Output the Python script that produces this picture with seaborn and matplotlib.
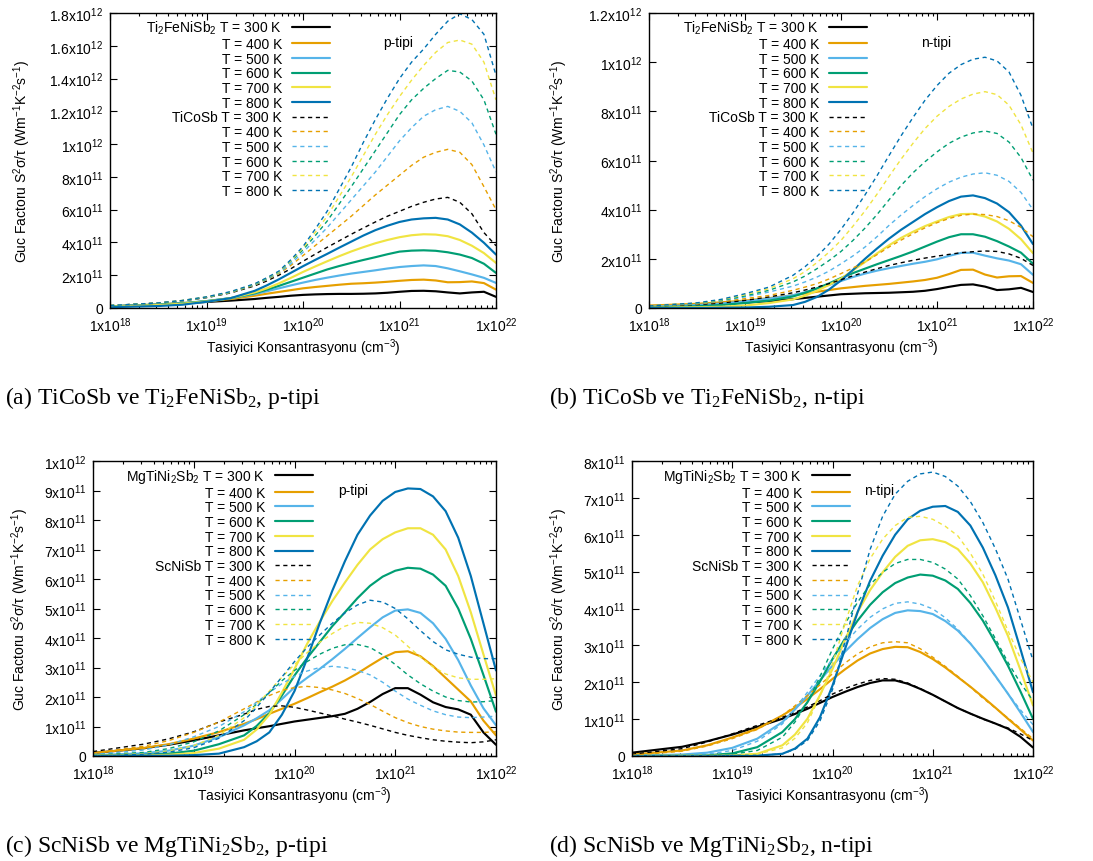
import numpy as np
import pandas as pd
import matplotlib
matplotlib.use("Agg")
import matplotlib.pyplot as plt
import seaborn as sns
from matplotlib.ticker import FixedLocator, LogLocator, NullFormatter, FixedFormatter

# ---------------- data ----------------
# exponent of carrier concentration (cm^-3), read-off positions
EXP = [18.0, 18.5, 18.75, 19.0, 19.25, 19.5, 19.625, 19.75, 19.875, 20.0,
       20.125, 20.25, 20.375, 20.5, 20.625, 20.75, 20.875, 21.0, 21.125,
       21.25, 21.375, 21.5, 21.625, 21.75, 21.875, 22.0]
TEMPS = [300, 400, 500, 600, 700, 800]
COLORS = ["#000000", "#E69F00", "#56B4E9", "#009E73", "#F0E442", "#0072B2"]

# power factor in units of 1e11 W m^-1 K^-2 s^-1
# (a) p-type: Ti2FeNiSb2 (solid) and TiCoSb (dashed)
A_S300 = [.10, .20, .28, .37, .45, .55, .62, .68, .75, .80, .83, .85, .86, .86, .87, .89, .93, .99, 1.04, 1.05, 1.02, .95, .89, .95, .99, .68]
A_S400 = [.10, .22, .30, .40, .55, .75, .87, .98, 1.09, 1.20, 1.28, 1.35, 1.42, 1.48, 1.51, 1.55, 1.60, 1.66, 1.71, 1.73, 1.68, 1.57, 1.58, 1.62, 1.52, 1.12]
A_S500 = [.10, .22, .30, .42, .60, .85, 1.02, 1.20, 1.38, 1.55, 1.71, 1.85, 1.98, 2.10, 2.20, 2.30, 2.41, 2.50, 2.56, 2.60, 2.56, 2.42, 2.24, 2.05, 1.84, 1.53]
A_S600 = [.10, .20, .28, .42, .60, .90, 1.12, 1.35, 1.60, 1.85, 2.10, 2.35, 2.56, 2.75, 2.93, 3.10, 3.28, 3.44, 3.50, 3.52, 3.49, 3.40, 3.26, 3.05, 2.70, 2.14]
A_S700 = [.08, .18, .26, .40, .60, .95, 1.20, 1.50, 1.84, 2.20, 2.53, 2.85, 3.16, 3.45, 3.71, 3.95, 4.15, 4.32, 4.44, 4.50, 4.48, 4.38, 4.15, 3.80, 3.35, 2.75]
A_S800 = [.05, .12, .20, .38, .60, 1.05, 1.38, 1.75, 2.15, 2.55, 2.93, 3.30, 3.68, 4.05, 4.42, 4.75, 5.02, 5.25, 5.40, 5.47, 5.50, 5.40, 5.10, 4.60, 3.98, 3.26]
A_D300 = [.15, .30, .44, .63, .92, 1.35, 1.65, 2.00, 2.40, 2.85, 3.28, 3.70, 4.10, 4.50, 4.88, 5.25, 5.60, 5.90, 6.20, 6.45, 6.65, 6.75, 6.45, 5.75, 4.60, 3.80]
A_D400 = [.15, .30, .45, .65, .95, 1.40, 1.73, 2.10, 2.60, 3.20, 3.80, 4.40, 5.00, 5.60, 6.25, 6.90, 7.50, 8.10, 8.70, 9.20, 9.50, 9.68, 9.50, 8.75, 7.40, 6.00]
A_D500 = [.15, .30, .45, .65, .96, 1.42, 1.75, 2.15, 2.70, 3.40, 4.15, 4.90, 5.75, 6.60, 7.45, 8.30, 9.25, 10.2, 11.0, 11.7, 12.1, 12.3, 12.0, 11.3, 9.95, 8.30]
A_D600 = [.15, .30, .45, .66, .97, 1.44, 1.80, 2.20, 2.85, 3.55, 4.40, 5.30, 6.35, 7.40, 8.50, 9.60, 10.7, 11.8, 12.7, 13.4, 14.0, 14.5, 14.4, 13.85, 12.7, 10.6]
A_D700 = [.15, .30, .46, .67, .98, 1.46, 1.83, 2.20, 2.90, 3.65, 4.60, 5.60, 6.80, 8.00, 9.30, 10.6, 11.8, 12.9, 13.9, 14.8, 15.6, 16.2, 16.35, 16.1, 15.0, 12.7]
A_D800 = [.15, .31, .46, .68, 1.00, 1.48, 1.85, 2.25, 2.95, 3.75, 4.80, 5.90, 7.25, 8.60, 10.1, 11.5, 12.8, 14.0, 15.0, 15.8, 16.7, 17.5, 17.95, 17.6, 16.7, 14.2]

# (b) n-type: Ti2FeNiSb2 (solid) and TiCoSb (dashed)
B_S300 = [.08, .12, .17, .22, .28, .36, .41, .46, .51, .56, .58, .60, .61, .62, .64, .66, .70, .77, .86, .94, .96, .87, .73, .76, .82, .65]
B_S400 = [.10, .17, .23, .30, .40, .52, .59, .66, .73, .80, .85, .90, .94, .98, 1.03, 1.08, 1.14, 1.23, 1.38, 1.55, 1.56, 1.36, 1.24, 1.29, 1.30, 1.02]
B_S500 = [.05, .12, .18, .27, .38, .52, .64, .78, .94, 1.10, 1.26, 1.40, 1.52, 1.62, 1.71, 1.80, 1.88, 1.98, 2.12, 2.24, 2.25, 2.13, 2.02, 1.93, 1.78, 1.35]
B_S600 = [.02, .07, .12, .20, .30, .47, .62, .80, 1.00, 1.22, 1.42, 1.60, 1.78, 1.95, 2.12, 2.30, 2.50, 2.70, 2.88, 3.00, 3.00, 2.90, 2.72, 2.50, 2.25, 1.80]
B_S700 = [.01, .03, .05, .10, .20, .35, .50, .70, .94, 1.20, 1.53, 1.87, 2.22, 2.55, 2.85, 3.10, 3.33, 3.52, 3.70, 3.82, 3.83, 3.72, 3.52, 3.22, 2.80, 2.23]
B_S800 = [.00, .00, .01, .02, .05, .12, .25, .45, .75, 1.12, 1.55, 2.00, 2.42, 2.82, 3.18, 3.50, 3.82, 4.10, 4.35, 4.53, 4.58, 4.47, 4.25, 3.90, 3.35, 2.60]
B_D300 = [.08, .14, .20, .31, .45, .62, .73, .85, .99, 1.15, 1.31, 1.46, 1.60, 1.73, 1.84, 1.94, 2.03, 2.11, 2.18, 2.25, 2.29, 2.32, 2.30, 2.20, 2.02, 1.73]
B_D400 = [.08, .16, .25, .38, .51, .72, .85, .99, 1.18, 1.40, 1.63, 1.87, 2.17, 2.48, 2.76, 3.02, 3.26, 3.47, 3.64, 3.77, 3.82, 3.80, 3.72, 3.55, 3.28, 2.90]
B_D500 = [.08, .18, .29, .45, .65, .89, 1.06, 1.26, 1.50, 1.80, 2.12, 2.48, 2.90, 3.36, 3.78, 4.17, 4.53, 4.85, 5.12, 5.32, 5.45, 5.50, 5.40, 5.15, 4.70, 4.00]
B_D600 = [.08, .19, .31, .49, .72, 1.06, 1.30, 1.60, 1.93, 2.30, 2.75, 3.25, 3.80, 4.40, 4.98, 5.50, 5.95, 6.35, 6.70, 6.95, 7.12, 7.20, 7.10, 6.75, 6.12, 5.20]
B_D700 = [.08, .20, .33, .54, .79, 1.19, 1.48, 1.85, 2.27, 2.75, 3.33, 3.95, 4.63, 5.35, 6.05, 6.70, 7.30, 7.80, 8.20, 8.50, 8.70, 8.80, 8.68, 8.25, 7.45, 6.30]
B_D800 = [.08, .21, .35, .58, .85, 1.33, 1.68, 2.10, 2.60, 3.20, 3.87, 4.60, 5.38, 6.20, 7.00, 7.75, 8.45, 9.05, 9.55, 9.90, 10.12, 10.20, 10.05, 9.60, 8.65, 7.30]

# (c) p-type: MgTiNi2Sb2 (solid) and ScNiSb (dashed)
C_S300 = [.10, .26, .38, .53, .70, .87, .94, 1.01, 1.09, 1.17, 1.23, 1.29, 1.35, 1.43, 1.60, 1.83, 2.10, 2.30, 2.30, 2.08, 1.82, 1.66, 1.58, 1.40, .80, .38]
C_S400 = [.10, .27, .40, .59, .81, 1.09, 1.25, 1.43, 1.60, 1.77, 1.96, 2.16, 2.35, 2.56, 2.80, 3.07, 3.33, 3.52, 3.55, 3.38, 3.05, 2.65, 2.25, 1.85, 1.20, .70]
C_S500 = [.03, .09, .18, .35, .64, 1.04, 1.28, 1.55, 1.93, 2.33, 2.65, 2.95, 3.28, 3.63, 4.00, 4.36, 4.70, 4.93, 4.97, 4.85, 4.50, 3.97, 3.25, 2.39, 1.62, 1.04]
C_S600 = [.01, .04, .08, .18, .40, .70, 1.02, 1.45, 2.05, 2.73, 3.32, 3.86, 4.40, 4.87, 5.35, 5.77, 6.08, 6.28, 6.38, 6.35, 6.15, 5.77, 5.00, 3.97, 2.75, 1.50]
C_S700 = [.01, .02, .04, .10, .25, .55, .90, 1.40, 2.15, 2.95, 3.80, 4.55, 5.25, 5.88, 6.48, 7.00, 7.35, 7.58, 7.72, 7.72, 7.50, 7.00, 6.10, 4.87, 3.45, 2.05]
C_S800 = [.00, .01, .01, .03, .08, .30, .50, .80, 1.40, 2.20, 3.30, 4.50, 5.60, 6.60, 7.50, 8.15, 8.65, 8.95, 9.07, 9.05, 8.80, 8.30, 7.40, 6.10, 4.50, 2.90]
C_D300 = [.15, .40, .58, .82, 1.15, 1.42, 1.58, 1.68, 1.70, 1.65, 1.56, 1.46, 1.36, 1.25, 1.15, 1.04, .92, .80, .70, .62, .55, .50, .47, .45, .48, .55]
C_D400 = [.10, .33, .52, .80, 1.15, 1.60, 1.83, 2.05, 2.22, 2.32, 2.36, 2.32, 2.24, 2.12, 1.95, 1.75, 1.52, 1.30, 1.13, 1.00, .91, .85, .81, .80, .80, .82]
C_D500 = [.05, .20, .38, .65, 1.00, 1.50, 1.82, 2.15, 2.45, 2.70, 2.88, 3.00, 3.04, 3.00, 2.90, 2.75, 2.50, 2.20, 1.93, 1.72, 1.53, 1.40, 1.32, 1.30, 1.32, 1.35]
C_D600 = [.03, .12, .25, .48, .85, 1.40, 1.76, 2.15, 2.55, 2.90, 3.20, 3.45, 3.65, 3.77, 3.78, 3.68, 3.43, 3.10, 2.75, 2.45, 2.20, 2.00, 1.88, 1.83, 1.84, 1.88]
C_D700 = [.02, .08, .17, .35, .70, 1.30, 1.73, 2.20, 2.67, 3.10, 3.50, 3.85, 4.15, 4.40, 4.53, 4.50, 4.35, 4.10, 3.72, 3.35, 3.02, 2.78, 2.65, 2.60, 2.60, 2.62]
C_D800 = [.01, .06, .13, .28, .60, 1.20, 1.65, 2.15, 2.68, 3.20, 3.68, 4.10, 4.50, 4.85, 5.12, 5.28, 5.22, 5.00, 4.65, 4.25, 3.88, 3.60, 3.45, 3.35, 3.30, 3.30]

# (d) n-type: MgTiNi2Sb2 (solid) and ScNiSb (dashed)
D_S300 = [.09, .25, .40, .58, .79, 1.01, 1.14, 1.28, 1.44, 1.60, 1.74, 1.87, 1.98, 2.05, 2.05, 1.96, 1.82, 1.66, 1.48, 1.30, 1.15, 1.01, .88, .74, .52, .23]
D_S400 = [.04, .15, .29, .50, .74, 1.10, 1.31, 1.55, 1.81, 2.09, 2.35, 2.59, 2.78, 2.90, 2.96, 2.95, 2.82, 2.63, 2.40, 2.14, 1.88, 1.60, 1.31, 1.01, .72, .42]
D_S500 = [.01, .04, .09, .22, .47, .92, 1.26, 1.64, 2.05, 2.45, 2.83, 3.17, 3.47, 3.71, 3.88, 3.95, 3.93, 3.85, 3.66, 3.40, 3.05, 2.63, 2.17, 1.69, 1.18, .65]
D_S600 = [.00, .01, .02, .07, .24, .65, 1.00, 1.46, 2.02, 2.63, 3.18, 3.67, 4.10, 4.44, 4.69, 4.84, 4.92, 4.89, 4.76, 4.53, 4.15, 3.67, 3.08, 2.45, 1.75, 1.01]
D_S700 = [.00, .01, .01, .02, .06, .29, .58, 1.01, 1.65, 2.36, 3.15, 3.90, 4.50, 4.98, 5.40, 5.70, 5.85, 5.88, 5.80, 5.61, 5.22, 4.71, 4.02, 3.26, 2.33, 1.37]
D_S800 = [.00, .00, .00, .01, .01, .06, .20, .47, 1.05, 1.91, 2.90, 3.90, 4.75, 5.43, 6.00, 6.42, 6.65, 6.76, 6.78, 6.62, 6.25, 5.65, 4.90, 4.03, 2.90, 1.73]
D_D300 = [.05, .20, .38, .60, .83, 1.05, 1.18, 1.33, 1.50, 1.68, 1.83, 1.95, 2.05, 2.10, 2.08, 1.98, 1.83, 1.66, 1.48, 1.30, 1.15, 1.00, .88, .76, .60, .42]
D_D400 = [.02, .13, .27, .47, .72, 1.10, 1.36, 1.64, 1.93, 2.23, 2.52, 2.77, 2.96, 3.07, 3.10, 3.07, 2.91, 2.68, 2.43, 2.16, 1.87, 1.57, 1.30, 1.03, .75, .47]
D_D500 = [.01, .02, .05, .15, .40, .87, 1.28, 1.73, 2.18, 2.63, 3.06, 3.44, 3.76, 3.99, 4.14, 4.18, 4.12, 3.99, 3.75, 3.44, 3.05, 2.63, 2.16, 1.69, 1.25, .85]
D_D600 = [.00, .01, .02, .05, .15, .51, .92, 1.46, 2.15, 2.90, 3.58, 4.17, 4.65, 4.98, 5.22, 5.33, 5.33, 5.25, 5.07, 4.80, 4.35, 3.80, 3.18, 2.54, 1.98, 1.50]
D_D700 = [.00, .01, .01, .02, .05, .22, .48, .90, 1.62, 2.50, 3.60, 4.62, 5.35, 5.88, 6.25, 6.47, 6.50, 6.42, 6.23, 5.97, 5.50, 4.93, 4.20, 3.40, 2.65, 2.00]
D_D800 = [.00, .00, .00, .01, .01, .06, .18, .42, .95, 1.80, 3.10, 4.40, 5.60, 6.50, 7.10, 7.45, 7.65, 7.70, 7.58, 7.32, 6.90, 6.33, 5.62, 4.80, 3.70, 2.59]

CAPTIONS = ["(a) TiCoSb ve Ti$_2$FeNiSb$_2$, p-tipi",
            "(b) TiCoSb ve Ti$_2$FeNiSb$_2$, n-tipi",
            "(c) ScNiSb ve MgTiNi$_2$Sb$_2$, p-tipi",
            "(d) ScNiSb ve MgTiNi$_2$Sb$_2$, n-tipi"]
XLABEL = "Tasiyici Konsantrasyonu (cm$^{-3}$)"
YLABEL = "Guc Factoru S$^2$σ/τ (Wm$^{-1}$K$^{-2}$s$^{-1}$)"
XTICK_EXP = [18, 19, 20, 21, 22]

# ---------------- style ----------------
sns.set_theme(style="ticks")
plt.rcParams.update({
    "font.family": ["Liberation Sans", "DejaVu Sans"],
    "mathtext.default": "regular",
    "font.size": 10,
    "axes.edgecolor": "black",
    "axes.linewidth": 1.0,
    "axes.labelcolor": "black",
    "text.color": "black",
    "xtick.color": "black",
    "ytick.color": "black",
    "xtick.labelsize": 10,
    "ytick.labelsize": 10,
    "axes.labelsize": 10,
})

CONC = [10.0 ** e for e in EXP]


def sci_label(v):
    if v == 0:
        return "0"
    e = int(np.floor(np.log10(v) + 1e-9))
    m = round(v / 10 ** e, 3)
    return ("%g" % m) + "x10$^{%d}$" % e


def draw_panel(ax, solids, dashes, solid_name, dashed_name, ymax, ystep,
               tag, tag_x, leg_x, ylab_x):
    handles = []
    for i, vals in enumerate(solids):
        df = pd.DataFrame({"n": CONC, "pf": np.array(vals) * 1e11})
        sns.lineplot(data=df, x="n", y="pf", ax=ax, color=COLORS[i],
                     linewidth=1.55, errorbar=None, sort=False)
        handles.append(ax.lines[-1])
    for i, vals in enumerate(dashes):
        df = pd.DataFrame({"n": CONC, "pf": np.array(vals) * 1e11})
        sns.lineplot(data=df, x="n", y="pf", ax=ax, color=COLORS[i],
                     linewidth=1.0, errorbar=None, sort=False,
                     linestyle=(0, (3.0, 2.6)))
        handles.append(ax.lines[-1])
    labels = []
    for j, t in enumerate(TEMPS):
        labels.append((solid_name + " " if j == 0 else "") + "T = %d K" % t)
    for j, t in enumerate(TEMPS):
        labels.append((dashed_name + " " if j == 0 else "") + "T = %d K" % t)

    ax.set_xscale("log")
    ax.set_xlim(1e18, 1e22)
    ax.set_ylim(0, ymax)
    ax.xaxis.set_major_locator(FixedLocator([10.0 ** e for e in XTICK_EXP]))
    ax.xaxis.set_major_formatter(FixedFormatter(["1x10$^{%d}$" % e for e in XTICK_EXP]))
    ax.xaxis.set_minor_locator(LogLocator(base=10, subs=np.arange(2, 10), numticks=20))
    ax.xaxis.set_minor_formatter(NullFormatter())
    yt = np.arange(0, ymax + ystep / 2, ystep)
    ax.yaxis.set_major_locator(FixedLocator(yt))
    ax.yaxis.set_major_formatter(FixedFormatter([sci_label(v) for v in yt]))
    ax.tick_params(which="both", direction="in", top=True, right=True, width=0.8)
    ax.tick_params(which="major", length=5)
    ax.tick_params(which="minor", length=2.5)
    ax.tick_params(axis="x", pad=5)
    ax.tick_params(axis="y", pad=5)
    ax.set_xlabel(XLABEL)
    ax.set_ylabel(YLABEL)
    ax.xaxis.set_label_coords(0.5, -0.095)
    ax.yaxis.set_label_coords(ylab_x, 0.5)

    ax.legend(handles, labels, loc="upper right", bbox_to_anchor=(leg_x, 0.98),
              frameon=False, markerfirst=False, handlelength=2.75,
              handletextpad=0.7, labelspacing=0.05, borderpad=0,
              borderaxespad=0, fontsize=10)
    ax.text(tag_x, 0.90, tag, transform=ax.transAxes, fontsize=10,
            ha="left", va="center")


W, H = 1093, 862
fig = plt.figure(figsize=(W / 100, H / 100), dpi=100)


def add_ax(l, r, t, b):
    return fig.add_axes([l / W, 1 - b / H, (r - l) / W, (b - t) / H])


axA = add_ax(110, 496, 14, 309)
axB = add_ax(649, 1033, 14, 309)
axC = add_ax(93, 496, 462, 757)
axD = add_ax(632, 1033, 462, 757)

draw_panel(axA, [A_S300, A_S400, A_S500, A_S600, A_S700, A_S800],
           [A_D300, A_D400, A_D500, A_D600, A_D700, A_D800],
           "Ti$_2$FeNiSb$_2$", "TiCoSb", 1.8e12, 2e11, "p-tipi", 0.707, 0.57, -0.20)
draw_panel(axB, [B_S300, B_S400, B_S500, B_S600, B_S700, B_S800],
           [B_D300, B_D400, B_D500, B_D600, B_D700, B_D800],
           "Ti$_2$FeNiSb$_2$", "TiCoSb", 1.2e12, 2e11, "n-tipi", 0.708, 0.568, -0.207)
draw_panel(axC, [C_S300, C_S400, C_S500, C_S600, C_S700, C_S800],
           [C_D300, C_D400, C_D500, C_D600, C_D700, C_D800],
           "MgTiNi$_2$Sb$_2$", "ScNiSb", 1.0e12, 1e11, "p-tipi", 0.608, 0.546, -0.155)
draw_panel(axD, [D_S300, D_S400, D_S500, D_S600, D_S700, D_S800],
           [D_D300, D_D400, D_D500, D_D600, D_D700, D_D800],
           "MgTiNi$_2$Sb$_2$", "ScNiSb", 8e11, 1e11, "n-tipi", 0.578, 0.544, -0.155)

cap_pos = [(5, 404), (549, 404), (5, 852), (549, 852)]
for (cx, cy), txt in zip(cap_pos, CAPTIONS):
    fig.text(cx / W, 1 - cy / H, txt, family=["Liberation Serif", "DejaVu Serif"],
             fontsize=17, ha="left", va="baseline")

fig.savefig("out.png", dpi=100, facecolor="white")
